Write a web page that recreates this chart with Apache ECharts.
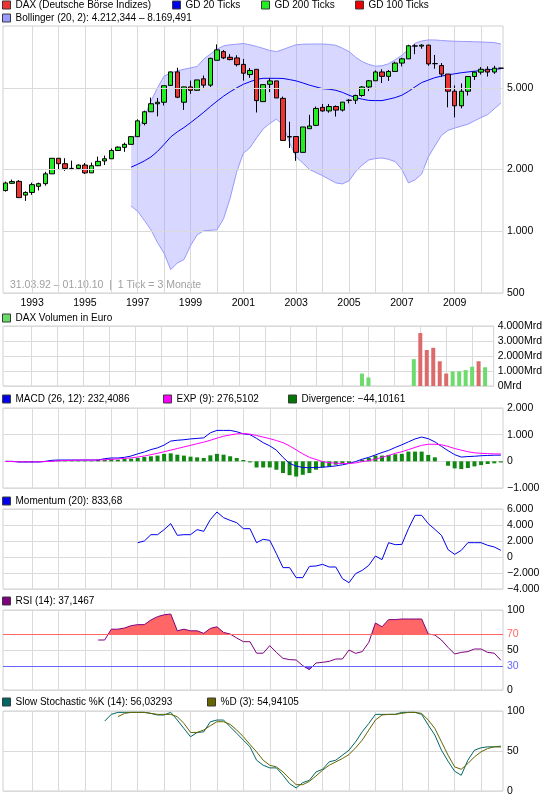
<!DOCTYPE html>
<html>
<head>
<meta charset="utf-8">
<script src="https://cdn.jsdelivr.net/npm/echarts@6/dist/echarts.min.js"></script>
<style>
  html, body { margin: 0; padding: 0; background: #fff; }
  #chart { width: 545px; height: 812px; }
</style>
</head>
<body>
<div id="chart"></div>
<script>
// quarterly candles, 1992 Q1 .. 2010 Q4 (last one = 01.10.10)
const firstYear = 1992;

const daxOpen = [1578,1712,1750,1500,1545,1655,1705,1904,2267,2133,2023,2023,2101,1925,2085,2200,2254,2474,2563,2650,
  2889,3350,3820,4180,4250,5135,5974,4250,5050,4860,5530,5150,6808,7500,7040,6990,6500,5800,6150,4280,
  5200,5400,4440,2880,2893,2423,3160,3280,4012,3856,4052,3893,4340,4349,4586,5044,5408,5971,5683,6004,
  6597,6917,8000,7980,8067,6560,6418,5831,4810,4085,4809,5675,5957,6154,5966,6229];
const daxClose = [1718,1745,1458,1545,1686,1705,1904,2267,2133,2023,2023,2101,1925,2085,2190,2254,2474,2570,2650,2889,
  3450,3820,4180,4250,5116,5974,4496,5050,4860,5460,5150,6958,7650,6990,6860,6480,5890,6073,4330,5180,
  5400,4460,2770,2893,2423,3220,3256,3965,3856,4052,3893,4256,4349,4586,5044,5408,5971,5683,6004,6597,
  6917,8007,7980,8067,6535,6550,5831,4810,4085,4809,5675,5957,6154,5966,6229,6229];
const daxLow = [1560,1705,1455,1405,1504,1580,1667,1900,2008,1970,1985,1985,1900,1920,2077,2101,2254,2474,2437,2650,
  2889,3280,3810,3630,4100,5100,4450,3900,4672,4860,5000,5050,6808,6900,6808,6355,5418,5590,3790,4280,
  4760,4460,2770,2542,2203,2423,3160,3250,3820,3780,3620,3830,4200,4167,4520,4815,5408,5276,5400,5970,
  6360,6917,7290,7750,6400,6190,5650,4014,3588,3970,4583,5460,5800,5670,5846,6200];
const daxHigh = [1745,1785,1775,1565,1724,1724,1948,2270,2270,2268,2208,2115,2150,2160,2310,2336,2530,2590,2700,2910,
  3510,3870,4480,4460,5116,6000,6260,5060,5418,5470,5740,7000,8136,7630,7290,7200,6910,6240,6150,5180,
  5590,5400,4530,3416,2893,3220,3690,4050,4170,4170,4100,4256,4400,4630,5100,5450,6073,6160,6100,6700,
  7000,8100,8151,8151,8100,7231,6600,5831,5130,5250,5675,6000,6308,6360,6400,6260];

// Bollinger (20, 2), from quarter index 19
const bbStart = 19;
const bbUpper = [2700,3100,3600,4300,5000,5700,5900,6050,6150,6250,6350,6900,7300,7700,8000,8100,8150,8220,8100,7950,
  7780,7600,7500,7680,7900,8100,8150,8160,8170,8170,8130,8050,7800,7500,7050,6700,6500,6370,6400,6550,
  6850,7200,7700,8236,8450,8555,8550,8500,8460,8430,8410,8400,8380,8360,8330,8300,8170];
const bbMiddle = [2052,2120,2200,2300,2450,2650,2880,3050,3200,3380,3580,3800,4050,4300,4550,4780,5000,5200,5350,5500,
  5560,5560,5560,5550,5480,5400,5280,5150,5050,4950,4920,4860,4750,4600,4480,4400,4340,4330,4330,4400,
  4480,4600,4800,5050,5300,5450,5600,5700,5780,5850,5920,5970,6020,6070,6110,6150,6190];
const bbLower = [1326,1250,1130,1016,880,780,650,700,727,850,960,1005,1010,1016,1150,1450,1950,2400,2550,2850,
  3150,3350,3520,3300,2700,2300,2150,2000,1930,1865,1790,1720,1700,1760,1950,2101,2225,2260,2275,2240,
  2183,2000,1720,1780,1900,2300,2600,2930,3100,3180,3250,3320,3450,3580,3700,3950,4212];

// volume (Mrd), only the quarters that have a bar
const volIndex = [55,56,63,64,65,66,67,68,69,70,71,72,73,74];
const volume = [830,570,1790,3530,2400,2550,1650,830,970,980,1060,1290,1650,1250];

// MACD (26, 12), EXP (9), divergence
const macd = [0,0,-25,-25,-25,-25,0,38,50,50,50,50,50,50,50,100,126,126,150,200,
  280,350,440,505,610,760,790,810,840,860,880,1070,1160,1160,1160,1110,1030,1000,860,700,
  580,420,150,-80,-180,-230,-240,-230,-220,-200,-170,-130,-80,-10,80,150,240,330,410,520,
  620,730,840,910,850,730,560,400,250,160,180,190,210,220,230,232];
const macdExp = [0,-10,-15,-20,-20,-20,-10,0,20,30,40,45,48,50,50,60,75,90,110,130,
  160,200,250,300,360,420,480,540,600,660,720,790,870,940,990,1030,1040,1020,970,910,
  850,780,700,580,430,280,150,70,-10,-50,-70,-80,-80,-60,-10,25,80,150,220,300,
  360,440,520,600,640,640,620,560,480,420,360,320,300,290,280,276];
const divergence = [0,-10,-30,-30,-30,-20,-10,20,30,30,30,30,20,20,60,60,90,60,100,100,
  125,165,190,215,280,300,250,215,175,150,125,225,280,250,190,125,50,-40,-230,-230,
  -230,-315,-440,-520,-570,-505,-440,-315,-230,-190,-125,-75,-60,0,60,125,215,215,240,265,
  280,365,365,365,240,150,0,-165,-265,-290,-250,-190,-140,-100,-75,-44];

// Momentum (20)
const momStart = 20;
const momentum = [1790,2000,2790,2790,3420,4170,2710,2790,2790,3420,3210,4670,5625,4920,4580,4290,3540,3540,1790,2210,
  2080,420,-1330,-1330,-2580,-2580,-1170,-1125,-920,-1250,-1250,-2700,-3210,-2080,-1670,-1040,125,-330,1790,1540,
  1580,3540,5210,5210,4170,3460,2710,920,330,830,1790,1790,1790,1460,1250,834];

// RSI (14)
const rsiStart = 14;
const rsi = [62.5,62.5,76,76,77.5,80.4,81.7,81.7,87.5,91.7,94,95,74,76,74,74,70.8,77,79,72,
  70,65,60.4,60.4,46,46,55.4,47,39.6,38,37.5,30.4,25.4,33.75,34.6,35.8,38.75,38.75,50,45.8,
  48,59.6,83.75,79,88,88,88.75,88.75,88.75,88.75,70,68.75,62.5,53.3,45,47,48,51.25,51.25,47,
  46,37.15];

// Slow Stochastic %K (14) and %D (3)
const stochKStart = 15;
const stochK = [87.4,95.8,98.3,98.3,98.3,98.3,98.3,97,95,95,98.3,88.7,78.2,67.8,73.2,74,86.6,88.7,88.7,80.3,
  72,63.6,55.2,38.5,32.2,28.9,28.9,19.7,9.2,3.8,10.5,13.4,23.8,27.2,36.4,38.5,44.8,51,61.5,74,
  84.5,95.8,95.8,95.8,95.8,98.3,98.3,98.3,95.8,82.4,69.9,51,37.2,24.7,19.7,38.5,51,54,55.2,55.2,
  56.03];
const stochDStart = 17;
const stochD = [92.9,97,98.3,98.3,98.3,97,95.8,95.8,95.8,92.9,84.5,73.2,73.2,76.2,81.6,86.6,86.6,83.3,76.2,67.8,
  58.2,49,38.5,32.2,30.1,23.8,15.5,7.9,7.9,12.1,18.8,26,32.2,36.4,40.6,45.6,54,63.6,76.2,88.7,
  95,95.8,95.8,97,98.3,98.3,97,88.7,78.2,61.5,44.8,30.1,27.2,34.3,42.7,49,53.1,55.2,54.94];

// axis ticks
const yearTicks = [1993,1994,1995,1996,1997,1998,1999,2000,2001,2002,2003,2004,2005,2006,2007,2008,2009,2010];
const yearLabels = [1993,1995,1997,1999,2001,2003,2005,2007,2009];
const priceTicks = [500,1000,2000,5000];

const FONT = '"Liberation Sans", Arial, sans-serif';
const FS = 10.5;
const LFS = 10;
const GRID_COLOR = '#dadada';

const qx = i => firstYear + i / 4;
const pairs = (start, arr) => arr.map((v, k) => [qx(start + k), v]);
const deNum = v => {
  const s = String(Math.abs(v)).replace(/\B(?=(\d{3})+(?!\d))/g, '.');
  return (v < 0 ? '\u2212' : '') + s;
};

const candles = daxOpen.map((o, i) => [qx(i), o, daxClose[i], daxLow[i], daxHigh[i]]);
const bandData = bbUpper.map((u, k) => [qx(bbStart + k), u, bbLower[k]]);
const volData = volIndex.map((i, k) => ({
  value: [qx(i), volume[k]],
  itemStyle: { color: daxClose[i] >= daxOpen[i] ? '#6ddc6d' : '#dd6a6a' }
}));

const gridDefs = [[26, 267], [326, 60], [408, 80], [509, 80], [610, 80], [711, 80]];
const grid = gridDefs.map(([top, height]) => ({
  left: 3, right: 42, top, height, show: true, borderColor: '#d0d0d0', borderWidth: 1
}));

const xAxis = gridDefs.map((_, k) => ({
  type: 'value', gridIndex: k, min: 1991.9, max: 2010.83,
  axisLine: { show: false },
  axisTick: { show: false, customValues: yearTicks },
  splitLine: { show: true, lineStyle: { color: GRID_COLOR } },
  axisLabel: k === 0
    ? { show: true, customValues: yearLabels, formatter: v => String(v), color: '#000', fontSize: FS, fontFamily: FONT, margin: 5 }
    : { show: false }
}));

const yBase = (k, extra) => Object.assign({
  gridIndex: k, position: 'right', type: 'value',
  axisLine: { show: false }, axisTick: { show: false },
  splitLine: { show: true, lineStyle: { color: GRID_COLOR } },
  axisLabel: { color: '#000', fontSize: FS, fontFamily: FONT, margin: 4, formatter: deNum }
}, extra);

const yAxis = [
  yBase(0, {
    type: 'log', logBase: 10, min: 500, max: 10000,
    splitLine: { show: false },
    axisTick: { show: false, customValues: priceTicks },
    axisLabel: { color: '#000', fontSize: FS, fontFamily: FONT, margin: 4, formatter: deNum, customValues: priceTicks }
  }),
  yBase(1, { min: 0, max: 4000, interval: 1000,
    axisLabel: { color: '#000', fontSize: FS, fontFamily: FONT, margin: 4, formatter: v => deNum(v) + 'Mrd' } }),
  yBase(2, { min: -1000, max: 2000, interval: 1000 }),
  yBase(3, { min: -4000, max: 6000, interval: 2000 }),
  yBase(4, { min: 0, max: 100, interval: 50 }),
  yBase(5, { min: 0, max: 100, interval: 50 })
];

const NAMES = {
  dax: 'DAX (Deutsche B\u00f6rse Indizes)',
  gd20: 'GD 20 Ticks', gd200: 'GD 200 Ticks', gd100: 'GD 100 Ticks',
  bb: 'Bollinger (20, 2): 4.212,344 \u2013 8.169,491',
  vol: 'DAX Volumen in Euro',
  macd: 'MACD (26, 12): 232,4086', exp: 'EXP (9): 276,5102', div: 'Divergence: \u221244,10161',
  mom: 'Momentum (20): 833,68',
  rsi: 'RSI (14): 37,1467',
  k: 'Slow Stochastic %K (14): 56,03293', d: '%D (3): 54,94105'
};

const legendItem = (name, color, left, top) => ({
  show: true, selectedMode: false, left, top, padding: 0, itemGap: 0,
  itemWidth: 8, itemHeight: 8, icon: 'rect',
  textStyle: { fontSize: LFS, color: '#000', fontFamily: FONT },
  data: [{ name, itemStyle: { color, borderColor: '#3a3a3a', borderWidth: 1 } }]
});

const legend = [
  legendItem(NAMES.dax, '#ee3333', 2, 0),
  legendItem(NAMES.gd20, '#0000ee', 172, 0),
  legendItem(NAMES.gd200, '#22ee22', 261, 0),
  legendItem(NAMES.gd100, '#ee0000', 355, 0),
  legendItem(NAMES.bb, '#9999ff', 2, 13),
  legendItem(NAMES.vol, '#66dd66', 2, 313),
  legendItem(NAMES.macd, '#0000ee', 2, 394),
  legendItem(NAMES.exp, '#ff00ff', 163, 394),
  legendItem(NAMES.div, '#007700', 288, 394),
  legendItem(NAMES.mom, '#0000ee', 2, 496),
  legendItem(NAMES.rsi, '#800080', 2, 596),
  legendItem(NAMES.k, '#006666', 2, 697),
  legendItem(NAMES.d, '#666600', 207, 697)
];

const line = (name, k, data, color, extra) => Object.assign({
  name, type: 'line', xAxisIndex: k, yAxisIndex: k, data,
  symbol: 'none', lineStyle: { color, width: 1 }, itemStyle: { color }, z: 3
}, extra);

const series = [
  // horizontal price grid lines for the log axis, drawn below everything
  line('priceGrid', 0, [], GRID_COLOR, {
    z: 0,
    markLine: {
      silent: true, symbol: 'none', animation: false, label: { show: false },
      lineStyle: { type: 'solid', width: 1, color: GRID_COLOR },
      data: priceTicks.map(v => ({ yAxis: v }))
    }
  }),
  {
    name: NAMES.bb, type: 'custom', xAxisIndex: 0, yAxisIndex: 0, z: 1,
    data: bandData, encode: { x: 0, y: [1, 2] },
    itemStyle: { color: '#9999ff' },
    renderItem: (params, api) => {
      if (params.dataIndexInside !== 0) return null;
      const n = params.dataInsideLength;
      const top = [], bottom = [];
      for (let j = 0; j < n; j++) {
        top.push(api.coord([api.value(0, j), api.value(1, j)]));
        bottom.push(api.coord([api.value(0, j), api.value(2, j)]));
      }
      return {
        type: 'polygon',
        shape: { points: top.concat(bottom.reverse()) },
        style: { fill: 'rgba(140,140,255,0.35)' }
      };
    }
  },
  line('bbUpper', 0, pairs(bbStart, bbUpper), '#9999ff', { z: 2 }),
  line('bbLower', 0, pairs(bbStart, bbLower), '#9999ff', { z: 2 }),
  line('bbMiddle', 0, pairs(bbStart, bbMiddle), '#0000ee', { z: 2 }),
  {
    name: NAMES.dax, type: 'candlestick', xAxisIndex: 0, yAxisIndex: 0, data: candles,
    barWidth: 5, z: 4,
    itemStyle: { color: '#22ee22', color0: '#ee3333', borderColor: '#000', borderColor0: '#000', borderColorDoji: '#000', borderWidth: 1 }
  },
  line(NAMES.gd20, 0, [], '#0000ee'),
  line(NAMES.gd200, 0, [], '#22ee22'),
  line(NAMES.gd100, 0, [], '#ee0000'),
  {
    name: NAMES.vol, type: 'bar', xAxisIndex: 1, yAxisIndex: 1, data: volData, barWidth: 4,
    itemStyle: { color: '#66dd66' }
  },
  {
    name: NAMES.div, type: 'bar', xAxisIndex: 2, yAxisIndex: 2, data: pairs(0, divergence), barWidth: 4,
    itemStyle: { color: '#118811' }
  },
  line(NAMES.macd, 2, pairs(0, macd), '#0000ee'),
  line(NAMES.exp, 2, pairs(0, macdExp), '#ff00ff'),
  line(NAMES.mom, 3, pairs(momStart, momentum), '#0000ee'),
  line('rsiFill', 4, pairs(rsiStart, rsi), '#ff6666', {
    z: 2, lineStyle: { width: 0, opacity: 0 }, areaStyle: { origin: 70, opacity: 1 }
  }),
  line(NAMES.rsi, 4, pairs(rsiStart, rsi), '#800080', {
    markLine: {
      silent: true, symbol: 'none', animation: false,
      lineStyle: { type: 'solid', width: 1 },
      label: { position: 'end', fontSize: FS, fontFamily: FONT, distance: 4 },
      data: [
        { yAxis: 70, lineStyle: { color: '#ff6666' }, label: { formatter: '70', color: '#ff6666' } },
        { yAxis: 30, lineStyle: { color: '#6666ff' }, label: { formatter: '30', color: '#6666ff' } }
      ]
    }
  }),
  line(NAMES.k, 5, pairs(stochKStart, stochK), '#006666'),
  line(NAMES.d, 5, pairs(stochDStart, stochD), '#666600')
];

const rsiFillIndex = series.findIndex(s => s.name === 'rsiFill');

const chart = echarts.init(document.getElementById('chart'), null, { renderer: 'canvas' });
chart.setOption({
  animation: false,
  backgroundColor: '#fff',
  textStyle: { fontFamily: FONT },
  grid, xAxis, yAxis, legend, series,
  visualMap: [{
    show: false, type: 'piecewise', seriesIndex: rsiFillIndex, dimension: 1,
    pieces: [
      { gt: 70, color: '#ff6666' },
      { gte: 30, lte: 70, color: 'rgba(255,255,255,0)' },
      { lt: 30, color: '#6666ff' }
    ]
  }],
  graphic: [{
    type: 'text', left: 10, top: 280, silent: true,
    style: { text: '31.03.92 \u2013 01.10.10  |  1 Tick = 3 Monate', fill: '#a0a0a0', font: FS + 'px ' + FONT }
  }]
});
</script>
</body>
</html>
